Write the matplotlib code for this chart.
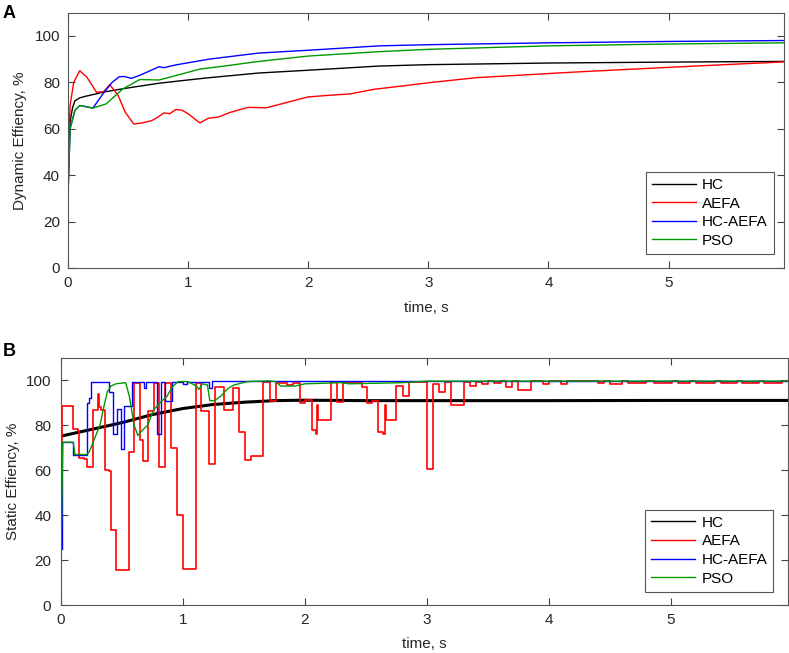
import numpy as np
import matplotlib
matplotlib.use("Agg")
import matplotlib.pyplot as plt

plt.rcParams['font.family'] = ['Liberation Sans', 'DejaVu Sans']
plt.rcParams['font.size'] = 11

labels = ['HC', 'AEFA', 'HC-AEFA', 'PSO']
colors = ['k', '#ff0000', '#0000ff', '#009a00']

# ---- panel A: dynamic efficiency (smooth curves)
dyn_hc_t = [0, 0.005, 0.02, 0.04, 0.06, 0.1, 0.15, 0.21, 0.3, 0.48, 0.76, 1.0, 1.18, 1.59, 2.0, 2.59, 3.0, 4.0, 5.0, 5.96]
dyn_hc_v = [0, 40, 63, 69, 72, 73.3, 74, 74.7, 75.8, 77.4, 79.6, 81, 82, 84, 85.2, 87, 87.6, 88.3, 88.7, 89]

dyn_aefa_t = [0, 0.005, 0.02, 0.05, 0.1, 0.16, 0.24, 0.3, 0.35, 0.42, 0.48, 0.55, 0.62, 0.7, 0.75, 0.8, 0.85,
              0.9, 0.95, 1.0, 1.1, 1.17, 1.25, 1.35, 1.5, 1.65, 1.8, 2.0, 2.2, 2.35, 2.55, 2.75, 3.0, 3.4,
              4.25, 5.1, 5.96]
dyn_aefa_v = [0, 45, 70, 80, 85, 82.2, 75.7, 76, 79, 74.3, 67, 62, 62.5, 63.5, 65, 66.8, 66.5,
              68.3, 68, 66.5, 62.5, 64.5, 65, 67, 69.2, 69, 71, 73.7, 74.5, 75, 77, 78.2, 79.8, 82,
              84.5, 86.7, 88.8]

dyn_hcaefa_t = [0, 0.005, 0.02, 0.06, 0.1, 0.21, 0.3, 0.37, 0.43, 0.47, 0.53, 0.6, 0.76, 0.8, 0.9, 1.18,
                1.59, 2.0, 2.59, 3.0, 4.0, 5.0, 5.96]
dyn_hcaefa_v = [0, 35, 60, 67.9, 70, 68.9, 75.5, 80, 82.4, 82.5, 81.7, 83, 86.7, 86.3, 87.5, 90,
                92.6, 93.8, 95.7, 96.2, 97, 97.6, 98]

dyn_pso_t = [0, 0.005, 0.02, 0.06, 0.1, 0.21, 0.32, 0.46, 0.6, 0.76, 0.9, 1.1, 1.26, 1.59, 2.0, 2.59,
             3.0, 4.0, 5.0, 5.96]
dyn_pso_v = [0, 35, 60, 67.9, 70, 68.9, 70.7, 77.2, 81.2, 81, 82.9, 85.7, 86.7, 89, 91.3, 93.2,
             94.2, 95.7, 96.5, 97]

# ---- panel B: static efficiency
st_hc_t = [0, 0.25, 0.5, 0.75, 1.0, 1.25, 1.5, 1.75, 2.0, 2.5, 3.0, 4.0, 5.0, 5.96]
st_hc_v = [75.2, 78.2, 81.2, 84.8, 87.5, 89.3, 90.3, 91.0, 91.2, 91.0, 91.0, 91.0, 91.1, 91.1]

# step segments: start time, level
st_aefa_t = [0, 0.008, 0.10, 0.14, 0.15, 0.19, 0.21, 0.26, 0.30, 0.315, 0.33, 0.36, 0.39, 0.41, 0.455,
             0.56, 0.60, 0.65, 0.67, 0.71, 0.76, 0.80, 0.855, 0.905, 0.955, 1.0, 1.11, 1.15, 1.21,
             1.26, 1.34, 1.41, 1.46, 1.51, 1.56, 1.66, 1.71, 1.76, 1.85, 1.90, 1.96, 2.0, 2.06,
             2.09, 2.10, 2.11, 2.21, 2.26, 2.31, 2.47, 2.51, 2.55, 2.60, 2.64, 2.655, 2.665, 2.75,
             2.80, 2.85, 3.0, 3.05, 3.10, 3.15, 3.2, 3.3, 3.35, 3.4, 3.45, 3.5, 3.55, 3.61, 3.65,
             3.7, 3.75, 3.85, 3.95, 4.0, 4.1, 4.15, 4.4, 4.45, 4.5, 4.6, 4.65, 4.8, 4.86, 5.01,
             5.06, 5.16, 5.21, 5.36, 5.41, 5.54, 5.58, 5.72, 5.76, 5.91, 5.96]
st_aefa_v = [25, 88.5, 78.5, 77.5, 65.5, 65, 61.5, 87, 94, 88, 87, 60, 59.5, 33.5, 15.5,
             68, 99, 73.5, 64, 86.5, 99, 61.5, 99, 70, 40, 16, 99, 86.5, 63,
             97, 87, 96.5, 77, 64.5, 66.5, 99.5, 91, 99, 98, 99, 90, 91.5, 78,
             76, 89, 82.5, 99.5, 90.5, 99.5, 97, 90, 91, 77, 76, 89, 82.5, 97.5,
             93, 99.4, 60.5, 98.2, 95, 99.4, 89, 99.4, 97.5, 99.4, 98.6, 99.6, 98.8, 99.6, 97,
             99.6, 95.7, 99.6, 98.5, 99.6, 98.2, 99.6, 99, 99.6, 98.5, 99.6, 99, 99.6, 99, 99.6,
             99, 99.6, 99, 99.6, 99, 99.6, 99, 99.6, 99, 99.6, 99.6]

st_hcaefa_t = [0, 0.008, 0.10, 0.21, 0.23, 0.25, 0.39, 0.43, 0.46, 0.49, 0.52, 0.58, 0.68, 0.70, 0.79,
               0.82, 0.85, 0.91, 1.0, 1.03, 1.21, 1.24, 5.96]
st_hcaefa_v = [25, 72.5, 67, 90, 92, 99.5, 95, 76, 87.5, 69.5, 88.5, 99.5, 96.5, 99.5, 76,
               99.5, 91, 99.5, 98.5, 99.5, 96.5, 99.7, 99.7]

st_pso_t = [0, 0.015, 0.10, 0.115, 0.21, 0.23, 0.26, 0.30, 0.32, 0.35, 0.38, 0.41, 0.45, 0.53, 0.56,
            0.60, 0.63, 0.67, 0.71, 0.76, 0.82, 0.87, 0.91, 0.96, 1.04, 1.11, 1.13, 1.16, 1.2, 1.22,
            1.26, 1.31, 1.37, 1.42, 1.53, 1.70, 1.76, 1.80, 1.92, 2.0, 2.3, 2.36, 2.8, 3.0, 5.96]
st_pso_v = [25, 72.5, 72.5, 67, 67, 68, 72, 77.5, 80, 88, 95, 97.5, 98.5, 99, 93,
            80, 75.5, 78, 80, 87, 90.5, 93, 97, 99.5, 99.5, 97.5, 96, 98.5, 98, 91,
            91, 93, 96.5, 98, 99.5, 99.8, 99.5, 97.5, 97.5, 98.5, 99, 98.5, 99, 99.7, 99.7]

fig = plt.figure(figsize=(7.89, 6.53), dpi=100)
axA = fig.add_axes([0.0858, 0.5896, 0.9079, 0.3910])
axB = fig.add_axes([0.0773, 0.0735, 0.9214, 0.3783])

axA.plot(dyn_hc_t, dyn_hc_v, color=colors[0], lw=1.0, label=labels[0])
axA.plot(dyn_aefa_t, dyn_aefa_v, color=colors[1], lw=1.0, label=labels[1])
axA.plot(dyn_hcaefa_t, dyn_hcaefa_v, color=colors[2], lw=1.0, label=labels[2])
axA.plot(dyn_pso_t, dyn_pso_v, color=colors[3], lw=1.0, label=labels[3])

axB.plot(st_hc_t, st_hc_v, color=colors[0], lw=2.2, label=labels[0])
axB.step(st_aefa_t, st_aefa_v, where='post', color=colors[1], lw=1.2, label=labels[1])
axB.step(st_hcaefa_t, st_hcaefa_v, where='post', color=colors[2], lw=1.0, label=labels[2])
axB.plot(st_pso_t, st_pso_v, color=colors[3], lw=1.0, label=labels[3])

for ax, ylab, lx, ypad, anchor in [(axA, 'Dynamic Effiency, %', -0.057, 5.5, (0.986, 0.055)),
                                   (axB, 'Static Effiency, %', -0.056, 7.0, (0.980, 0.054))]:
    ax.set_xlim(0, 5.96)
    ax.set_ylim(0, 110)
    ax.set_xticks([0, 1, 2, 3, 4, 5])
    ax.set_yticks([0, 20, 40, 60, 80, 100])
    ax.tick_params(direction='in', top=True, right=True, length=5, width=0.8,
                   color='#404040', labelcolor='#262626')
    ax.tick_params(axis='x', pad=6.0)
    ax.tick_params(axis='y', pad=ypad)
    for s in ax.spines.values():
        s.set_color('#555555')
        s.set_linewidth(0.8)
    ax.set_ylabel(ylab, color='#262626')
    ax.yaxis.set_label_coords(lx, 0.5)
    ax.set_xlabel('time, s', color='#262626')
    ax.xaxis.set_label_coords(0.5, -0.13)
    leg = ax.legend(loc='lower right', bbox_to_anchor=anchor, borderaxespad=0,
                    fancybox=False, framealpha=1, edgecolor='#555555',
                    handlelength=2.9, handletextpad=0.4, labelspacing=0.3,
                    borderpad=0.4, fontsize=11)
    leg.get_frame().set_linewidth(0.8)
    for h in leg.get_lines():
        h.set_linewidth(1.0)

fig.text(0.003, 0.993, 'A', fontsize=13, fontweight='bold', va='top', ha='left')
fig.text(0.003, 0.475, 'B', fontsize=13, fontweight='bold', va='top', ha='left')

fig.savefig('out.png', dpi=100)
